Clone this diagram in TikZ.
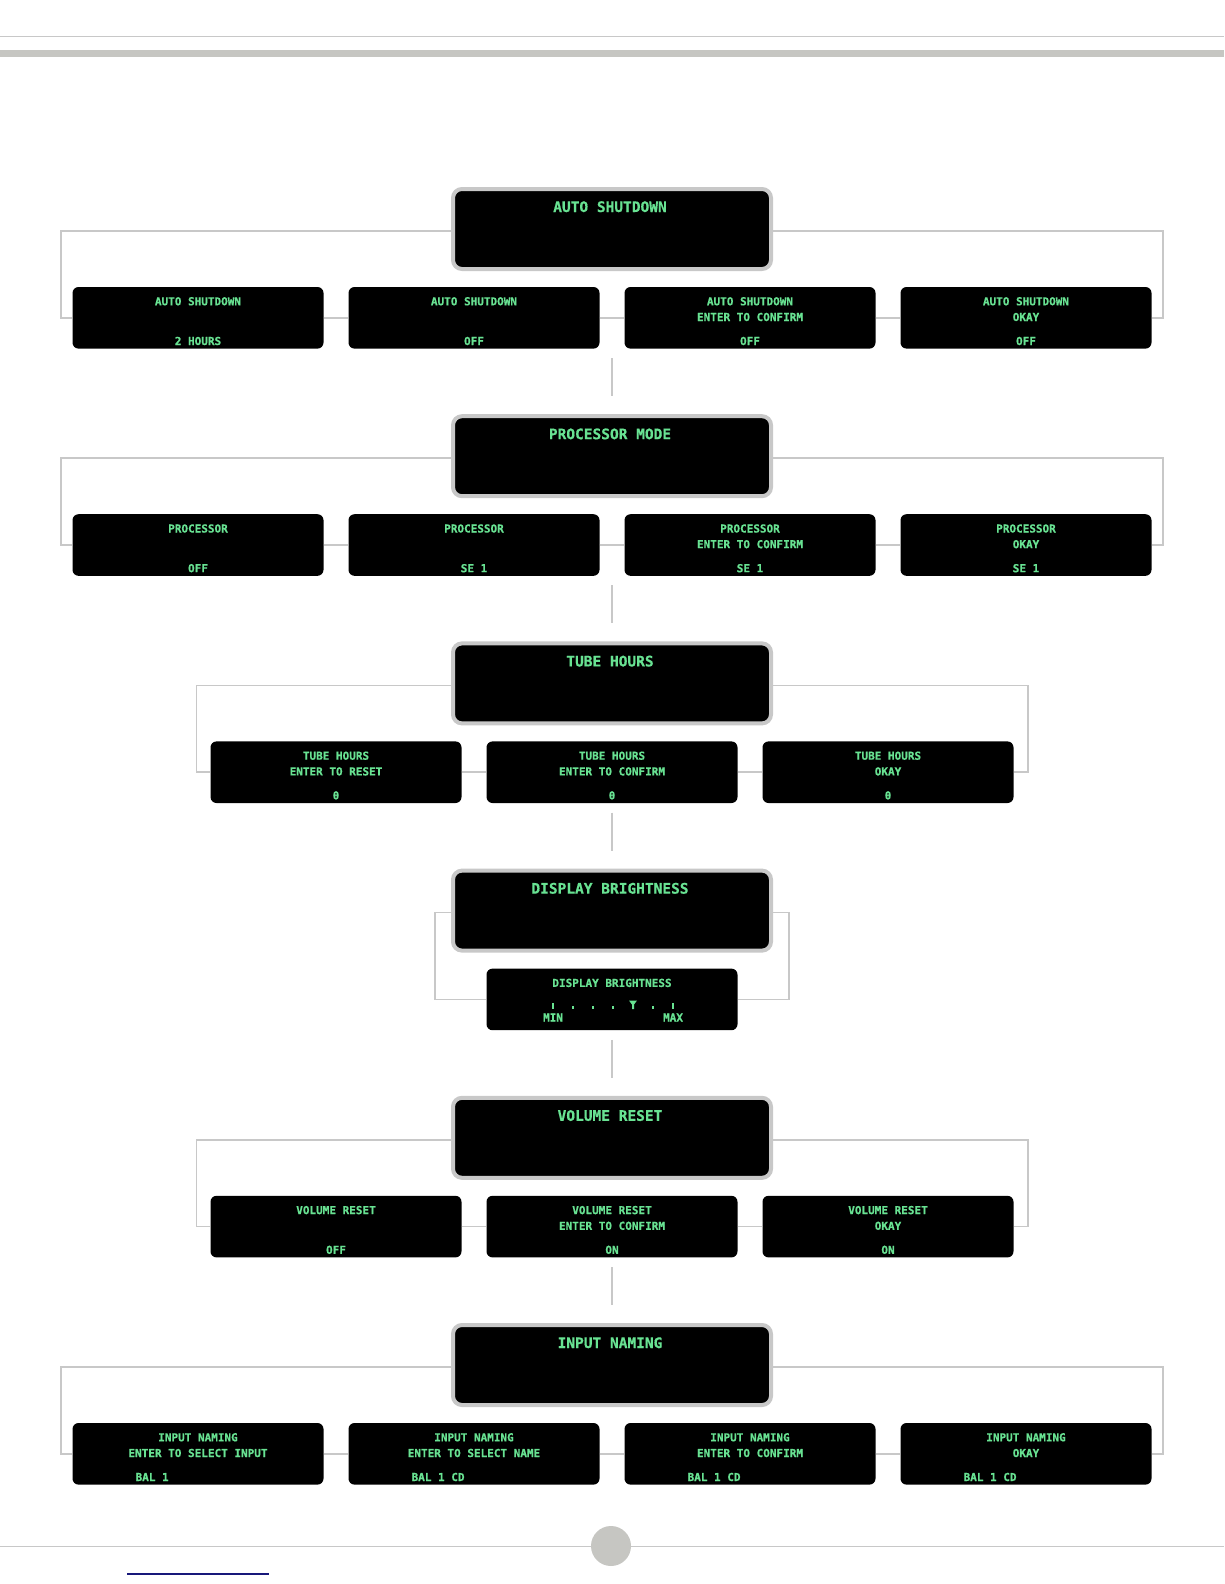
\documentclass[tikz,border=0pt]{standalone}
\usepackage{fontspec}
\newfontfamily\lcdfont{DejaVu Sans Mono}[BoldFeatures={FakeBold=0.6}]
\usepackage{xcolor}
\definecolor{lcdgreen}{RGB}{104,226,146}
\definecolor{rulegray}{RGB}{200,200,200}
\definecolor{bandgray}{RGB}{198,198,194}
\definecolor{linkblue}{RGB}{24,24,122}
\usepackage{tikz}
\tikzset{
  bigscreen/.style={draw=rulegray,line width=4pt,fill=black,rounded corners=9pt,
    minimum width=318pt,minimum height=80pt,inner sep=0pt},
  screen/.style={fill=black,rounded corners=6pt,minimum width=251pt,
    minimum height=61.6pt,inner sep=0pt},
  lcd/.style={text=lcdgreen,inner sep=0pt,anchor=base,
    font=\lcdfont\bfseries\fontsize{11}{11}\selectfont},
  lcdtitle/.style={lcd,font=\lcdfont\bfseries\fontsize{14.5}{14.5}\selectfont},
  link/.style={draw=rulegray,line width=1.6pt}
}
% #1 name, #2 top, #3 title
\newcommand{\mainscreen}[3]{
  \node[bigscreen] (#1) at (612,#2+42) {};
  \node[lcdtitle] (#1t) at (610,#2+25) {#3};}
% #1 name, #2 x, #3 top, #4-#6 lines
\newcommand{\subscreen}[6]{
  \node[screen] (#1) at (#2,#3+30.8) {};
  \node[lcd] (#1a) at (#2,#3+18.3) {#4};
  \node[lcd] (#1b) at (#2,#3+34) {#5};
  \node[lcd] (#1c) at (#2,#3+58) {#6};}
\newcommand{\subscreenl}[6]{
  \node[screen] (#1) at (#2,#3+30.8) {};
  \node[lcd] (#1a) at (#2,#3+18.3) {#4};
  \node[lcd] (#1b) at (#2,#3+34) {#5};
  \node[lcd,anchor=base west] (#1c) at (#2-62.6,#3+58) {#6};}

\begin{document}
\begin{tikzpicture}[x=1pt,y=-1pt]
\fill[white] (0,0) rectangle (1224,1584);
\useasboundingbox (0,0) rectangle (1224,1584);
% ---- page rules ----
\draw[rulegray,line width=1pt] (0,36.5) -- (1224,36.5);
\fill[bandgray] (0,50) rectangle (1224,57.5);
\draw[rulegray,line width=1pt] (0,1546) -- (1224,1546);
\fill[bandgray] (611,1546) circle (20pt);
\draw[linkblue,line width=1.5pt] (127,1574) -- (269,1574);
% ---- AUTO SHUTDOWN ----
\mainscreen{as}{187}{AUTO SHUTDOWN}
\subscreen{as1}{198}{287}{AUTO SHUTDOWN}{}{2 HOURS}
\subscreen{as2}{474}{287}{AUTO SHUTDOWN}{}{OFF}
\subscreen{as3}{750}{287}{AUTO SHUTDOWN}{ENTER TO CONFIRM}{OFF}
\subscreen{as4}{1026}{287}{AUTO SHUTDOWN}{OKAY}{OFF}
\draw[link] ([yshift=-2pt]as.west) -| ([xshift=-11.5pt]as1.west) -- (as1.west);
\draw[link] ([yshift=-2pt]as.east) -| ([xshift=11.5pt]as4.east) -- (as4.east);
\draw[link] (as1) -- (as2) (as2) -- (as3) (as3) -- (as4);
% ---- PROCESSOR MODE ----
\mainscreen{pm}{414.2}{PROCESSOR MODE}
\subscreen{pm1}{198}{514.2}{PROCESSOR}{}{OFF}
\subscreen{pm2}{474}{514.2}{PROCESSOR}{}{SE 1}
\subscreen{pm3}{750}{514.2}{PROCESSOR}{ENTER TO CONFIRM}{SE 1}
\subscreen{pm4}{1026}{514.2}{PROCESSOR}{OKAY}{SE 1}
\draw[link] ([yshift=-2pt]pm.west) -| ([xshift=-11.5pt]pm1.west) -- (pm1.west);
\draw[link] ([yshift=-2pt]pm.east) -| ([xshift=11.5pt]pm4.east) -- (pm4.east);
\draw[link] (pm1) -- (pm2) (pm2) -- (pm3) (pm3) -- (pm4);
\draw[link,shorten <=9.4pt,shorten >=18pt] (as |- as1.south) -- (pm.north);
% ---- TUBE HOURS ----
\mainscreen{th}{641.4}{TUBE HOURS}
\subscreen{th1}{336}{741.4}{TUBE HOURS}{ENTER TO RESET}{0}
\subscreen{th2}{612}{741.4}{TUBE HOURS}{ENTER TO CONFIRM}{0}
\subscreen{th3}{888}{741.4}{TUBE HOURS}{OKAY}{0}
\draw[link] ([yshift=-2pt]th.west) -| ([xshift=-14pt]th1.west) -- (th1.west);
\draw[link] ([yshift=-2pt]th.east) -| ([xshift=14pt]th3.east) -- (th3.east);
\draw[link] (th1) -- (th2) (th2) -- (th3);
\draw[link,shorten <=9.4pt,shorten >=18pt] (pm |- pm1.south) -- (th.north);
% ---- DISPLAY BRIGHTNESS ----
\mainscreen{db}{868.6}{DISPLAY BRIGHTNESS}
\node[screen] (db1) at (612,999.4) {};
\node[lcd] (db1a) at (612,986.9) {DISPLAY BRIGHTNESS};
\foreach \x/\h in {553/6,573/3.5,593/3.5,613/3.5,653/3.5,673/6}
  \fill[lcdgreen] (\x-1,1009-\h) rectangle (\x+1,1009);
\fill[lcdgreen] (629,1000.5) -- (637,1000.5) -- (634,1004.5) -- (634,1009)
  -- (632,1009) -- (632,1004.5) -- cycle;
\node[lcd] (dbmin) at (553,1021.5) {MIN};
\node[lcd] (dbmax) at (673,1021.5) {MAX};
\draw[link] ([yshift=-2pt]db.west) -| ([xshift=-16pt]db.west |- db1.west) -- (db1.west);
\draw[link] ([yshift=-2pt]db.east) -| ([xshift=16pt]db.east |- db1.east) -- (db1.east);
\draw[link,shorten <=9.4pt,shorten >=18pt] (th2.south) -- (db.north);
% ---- VOLUME RESET ----
\mainscreen{vr}{1095.8}{VOLUME RESET}
\subscreen{vr1}{336}{1195.8}{VOLUME RESET}{}{OFF}
\subscreen{vr2}{612}{1195.8}{VOLUME RESET}{ENTER TO CONFIRM}{ON}
\subscreen{vr3}{888}{1195.8}{VOLUME RESET}{OKAY}{ON}
\draw[link] ([yshift=-2pt]vr.west) -| ([xshift=-14pt]vr1.west) -- (vr1.west);
\draw[link] ([yshift=-2pt]vr.east) -| ([xshift=14pt]vr3.east) -- (vr3.east);
\draw[link] (vr1) -- (vr2) (vr2) -- (vr3);
\draw[link,shorten <=9.4pt,shorten >=18pt] (db1.south) -- (vr.north);
% ---- INPUT NAMING ----
\mainscreen{inp}{1323}{INPUT NAMING}
\subscreenl{inp1}{198}{1423}{INPUT NAMING}{ENTER TO SELECT INPUT}{BAL 1}
\subscreenl{inp2}{474}{1423}{INPUT NAMING}{ENTER TO SELECT NAME}{BAL 1 CD}
\subscreenl{inp3}{750}{1423}{INPUT NAMING}{ENTER TO CONFIRM}{BAL 1 CD}
\subscreenl{inp4}{1026}{1423}{INPUT NAMING}{OKAY}{BAL 1 CD}
\draw[link] ([yshift=-2pt]inp.west) -| ([xshift=-11.5pt]inp1.west) -- (inp1.west);
\draw[link] ([yshift=-2pt]inp.east) -| ([xshift=11.5pt]inp4.east) -- (inp4.east);
\draw[link] (inp1) -- (inp2) (inp2) -- (inp3) (inp3) -- (inp4);
\draw[link,shorten <=9.4pt,shorten >=18pt] (vr2.south) -- (inp.north);
\end{tikzpicture}
\end{document}
